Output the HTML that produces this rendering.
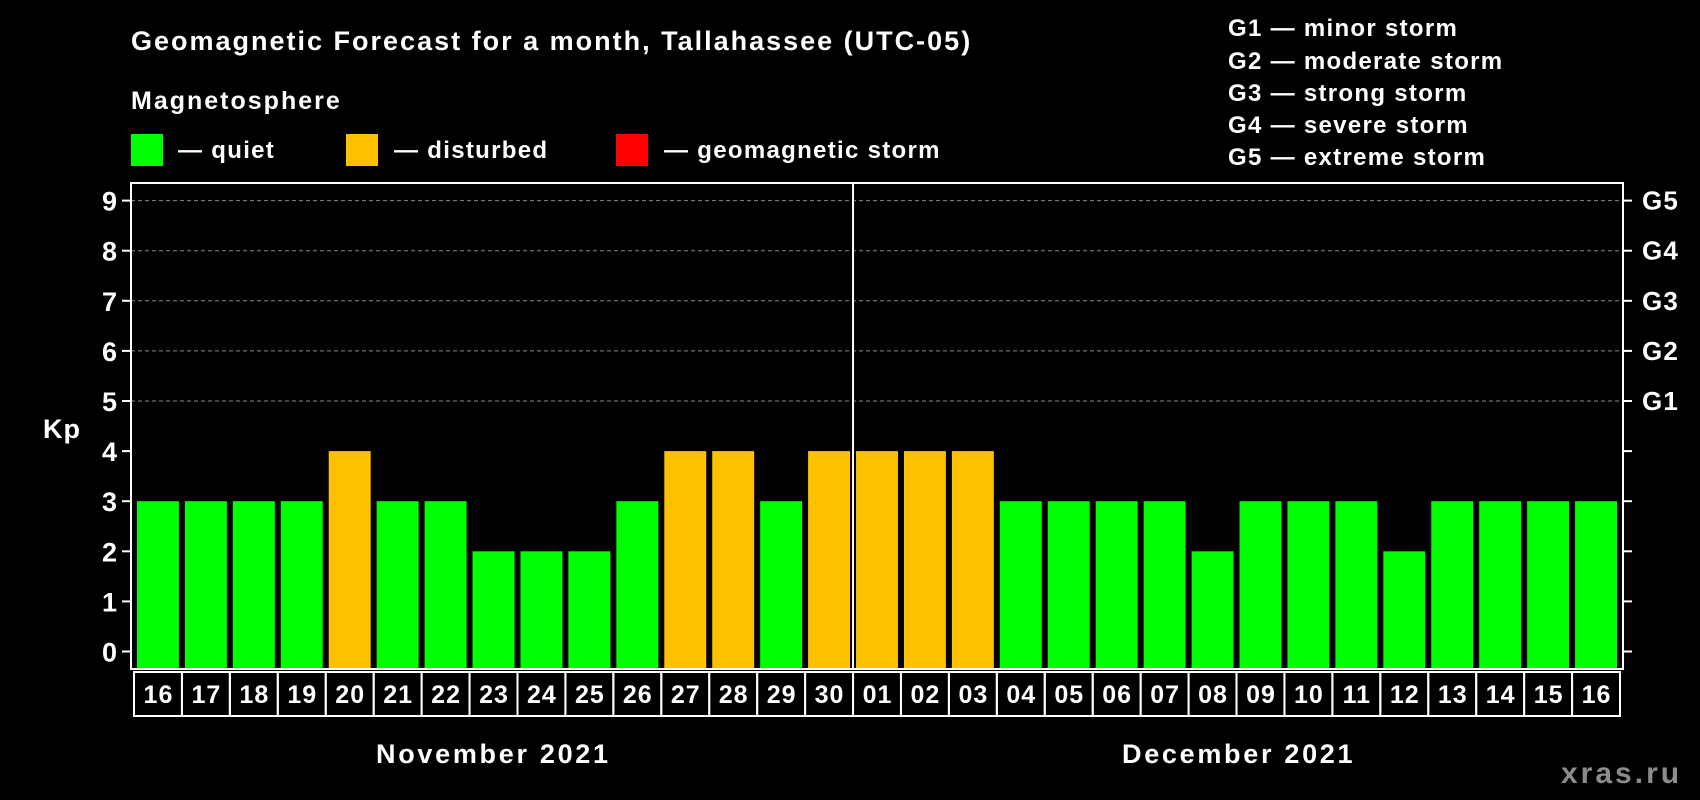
<!DOCTYPE html>
<html><head><meta charset="utf-8"><style>
html,body{margin:0;padding:0;background:#000;}
svg{display:block;font-family:"Liberation Sans",Arial,sans-serif;font-weight:bold;}
</style></head><body>
<svg id="chart" width="1700" height="800" viewBox="0 0 1700 800">
<rect width="1700" height="800" fill="#000"/>
<text x="131" y="50" fill="#fff" font-size="27" letter-spacing="2">Geomagnetic Forecast for a month, Tallahassee (UTC-05)</text>
<text x="131" y="109" fill="#fff" font-size="25" letter-spacing="2">Magnetosphere</text>
<rect x="131" y="134" width="32" height="32" fill="#00ff00"/>
<text x="178" y="158" fill="#fff" font-size="24" letter-spacing="1.3">— quiet</text>
<rect x="346" y="134" width="32" height="32" fill="#ffc000"/>
<text x="394" y="158" fill="#fff" font-size="24" letter-spacing="1.3">— disturbed</text>
<rect x="616" y="134" width="32" height="32" fill="#ff0000"/>
<text x="664" y="158" fill="#fff" font-size="24" letter-spacing="1.3">— geomagnetic storm</text>
<g fill="#fff" font-size="24" letter-spacing="1.3">
<text x="1228" y="36">G1 — minor storm</text>
<text x="1228" y="69">G2 — moderate storm</text>
<text x="1228" y="101">G3 — strong storm</text>
<text x="1228" y="133">G4 — severe storm</text>
<text x="1228" y="165">G5 — extreme storm</text>
</g>
<text x="43" y="438" fill="#fff" font-size="27" letter-spacing="1">Kp</text>
<g id="grid"></g><g id="bars"></g><g id="axes"></g>
<text x="376" y="763" fill="#fff" font-size="27" letter-spacing="2.7">November 2021</text>
<text x="1122" y="763" fill="#fff" font-size="27" letter-spacing="2.7">December 2021</text>
<text x="1561" y="783" fill="#8c8c8c" font-size="30" letter-spacing="3">xras.ru</text>
</svg>
<script>
const days = ["16","17","18","19","20","21","22","23","24","25","26","27","28","29","30","01","02","03","04","05","06","07","08","09","10","11","12","13","14","15","16"];
const kpValues = [3,3,3,3,4,3,3,2,2,2,3,4,4,3,4,4,4,4,3,3,3,3,2,3,3,3,2,3,3,3,3];
const yTicks = [0,1,2,3,4,5,6,7,8,9];
const gLabels = ["G1","G2","G3","G4","G5"];
const gLevels = [5,6,7,8,9];
const monthSplitIndex = 15;

const NS="http://www.w3.org/2000/svg";
const L=131,R=1623,T=183,B=669,Y0=651.5,UNIT=50.1;
const SX=134, SW=(R-3-SX)/days.length;
const y=v=>Y0-v*UNIT;
const x=i=>SX+i*SW;
function mk(tag,attrs,parent,txt){const e=document.createElementNS(NS,tag);for(const k in attrs)e.setAttribute(k,attrs[k]);if(txt!==undefined)e.textContent=txt;parent.appendChild(e);return e;}
const grid=document.getElementById('grid'),bars=document.getElementById('bars'),axes=document.getElementById('axes');
gLevels.forEach((lv,i)=>{
  const g=mk('line',{x1:L,x2:R,y1:y(lv),y2:y(lv),stroke:'#888','stroke-width':1,'stroke-dasharray':'4,3'},grid);
  
  
  const t=mk('text',{x:1642,y:y(lv)+9,fill:'#fff','font-size':26,'letter-spacing':1.2},axes,gLabels[i]);
  
  
});
kpValues.forEach((v,i)=>{
  const b=mk('rect',{x:x(i)+3,y:y(v),width:SW-6,height:B-y(v),fill:v>=5?'#ff0000':(v>=4?'#ffc000':'#00ff00')},bars);
  
  
  const c=mk('rect',{x:x(i),y:672,width:SW,height:44,fill:'none',stroke:'#fff','stroke-width':2},axes);
  
  
  const t=mk('text',{x:x(i)+SW/2+0.5,y:703,fill:'#fff','font-size':25,'text-anchor':'middle','letter-spacing':1},axes,days[i]);
  
  
});
const frame=mk('rect',{x:L,y:T,width:R-L,height:B-T,fill:'none',stroke:'#fff','stroke-width':2},axes);


const sep=mk('line',{x1:x(monthSplitIndex),x2:x(monthSplitIndex),y1:T,y2:B,stroke:'#fff','stroke-width':2},axes);


yTicks.forEach(v=>{
  mk('line',{x1:L-9,x2:L,y1:y(v),y2:y(v),stroke:'#fff','stroke-width':2},axes);
  mk('line',{x1:R,x2:R+9,y1:y(v),y2:y(v),stroke:'#fff','stroke-width':2},axes);
  const t=mk('text',{x:117,y:y(v)+10,fill:'#fff','font-size':27,'text-anchor':'end'},axes,String(v));
  
  
});
</script>
</body></html>
